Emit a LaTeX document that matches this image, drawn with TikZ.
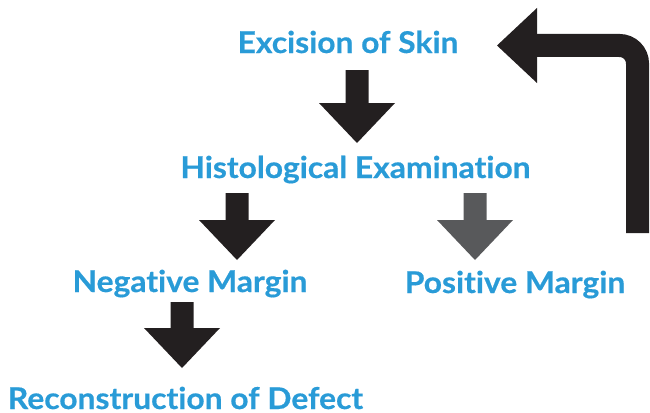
\documentclass[tikz,border=0pt]{standalone}
\usepackage{fontspec}
\setmainfont[FakeStretch=1.06, RawFeature={-liga}, BoldFeatures={FakeBold=0.5}]{Lato}
\usetikzlibrary{calc}

\definecolor{stepblue}{HTML}{299BD7}
\definecolor{arrowdark}{HTML}{231F20}
\definecolor{arrowgrey}{HTML}{58595B}

\tikzset{
  steplabel/.style={anchor=base, inner sep=0pt, text depth=0pt, text=stepblue,
    font=\fontsize{30}{30}\selectfont\bfseries},
}

% block arrow pointing down: #2 top of shaft, #3 tip
\newcommand\blockarrow[3][arrowdark]{%
  \fill[#1] (#2) ++(-11.5,0) -- ++(23,0) |- ($(#3)+(38,-40)$) -- (#3)
    -- ($(#3)+(-38,-40)$) -| cycle;}

\begin{document}
\begin{tikzpicture}[x=1pt, y=-1pt]
    \useasboundingbox (0,0) rectangle (650,412);

    \node[steplabel] (excision) at (348,53) {Excision of Skin};
    \node[steplabel] (histo) at (355.5,178) {Histological Examination};
    \node[steplabel] (negative) at (190,292) {Negative Margin};
    \node[steplabel] (positive) at (515,293) {Positive Margin};
    \node[steplabel] (reconstruct) at (185.5,409) {Reconstruction of Defect};

    \coordinate (a1top) at (357,70);  \coordinate (a1tip) at (357,143);
    \coordinate (a2top) at (237,193); \coordinate (a2tip) at (237,260);
    \coordinate (a3top) at (475,193); \coordinate (a3tip) at (475,260);
    \coordinate (a4top) at (182,302); \coordinate (a4tip) at (182,368);

    \blockarrow{a1top}{a1tip}
    \blockarrow{a2top}{a2tip}
    \blockarrow[arrowgrey]{a3top}{a3tip}
    \blockarrow{a4top}{a4tip}

    % loop back from positive margin to excision
    \coordinate (loopstart) at (637.5,233);
    \coordinate (loopend) at (537,45.5);
    \draw[arrowdark, line width=23pt, rounded corners=18pt] (loopstart) |- (loopend);
    \fill[arrowdark] (537,8) -- (497,45.5) -- (537,83) -- cycle;
\end{tikzpicture}
\end{document}
